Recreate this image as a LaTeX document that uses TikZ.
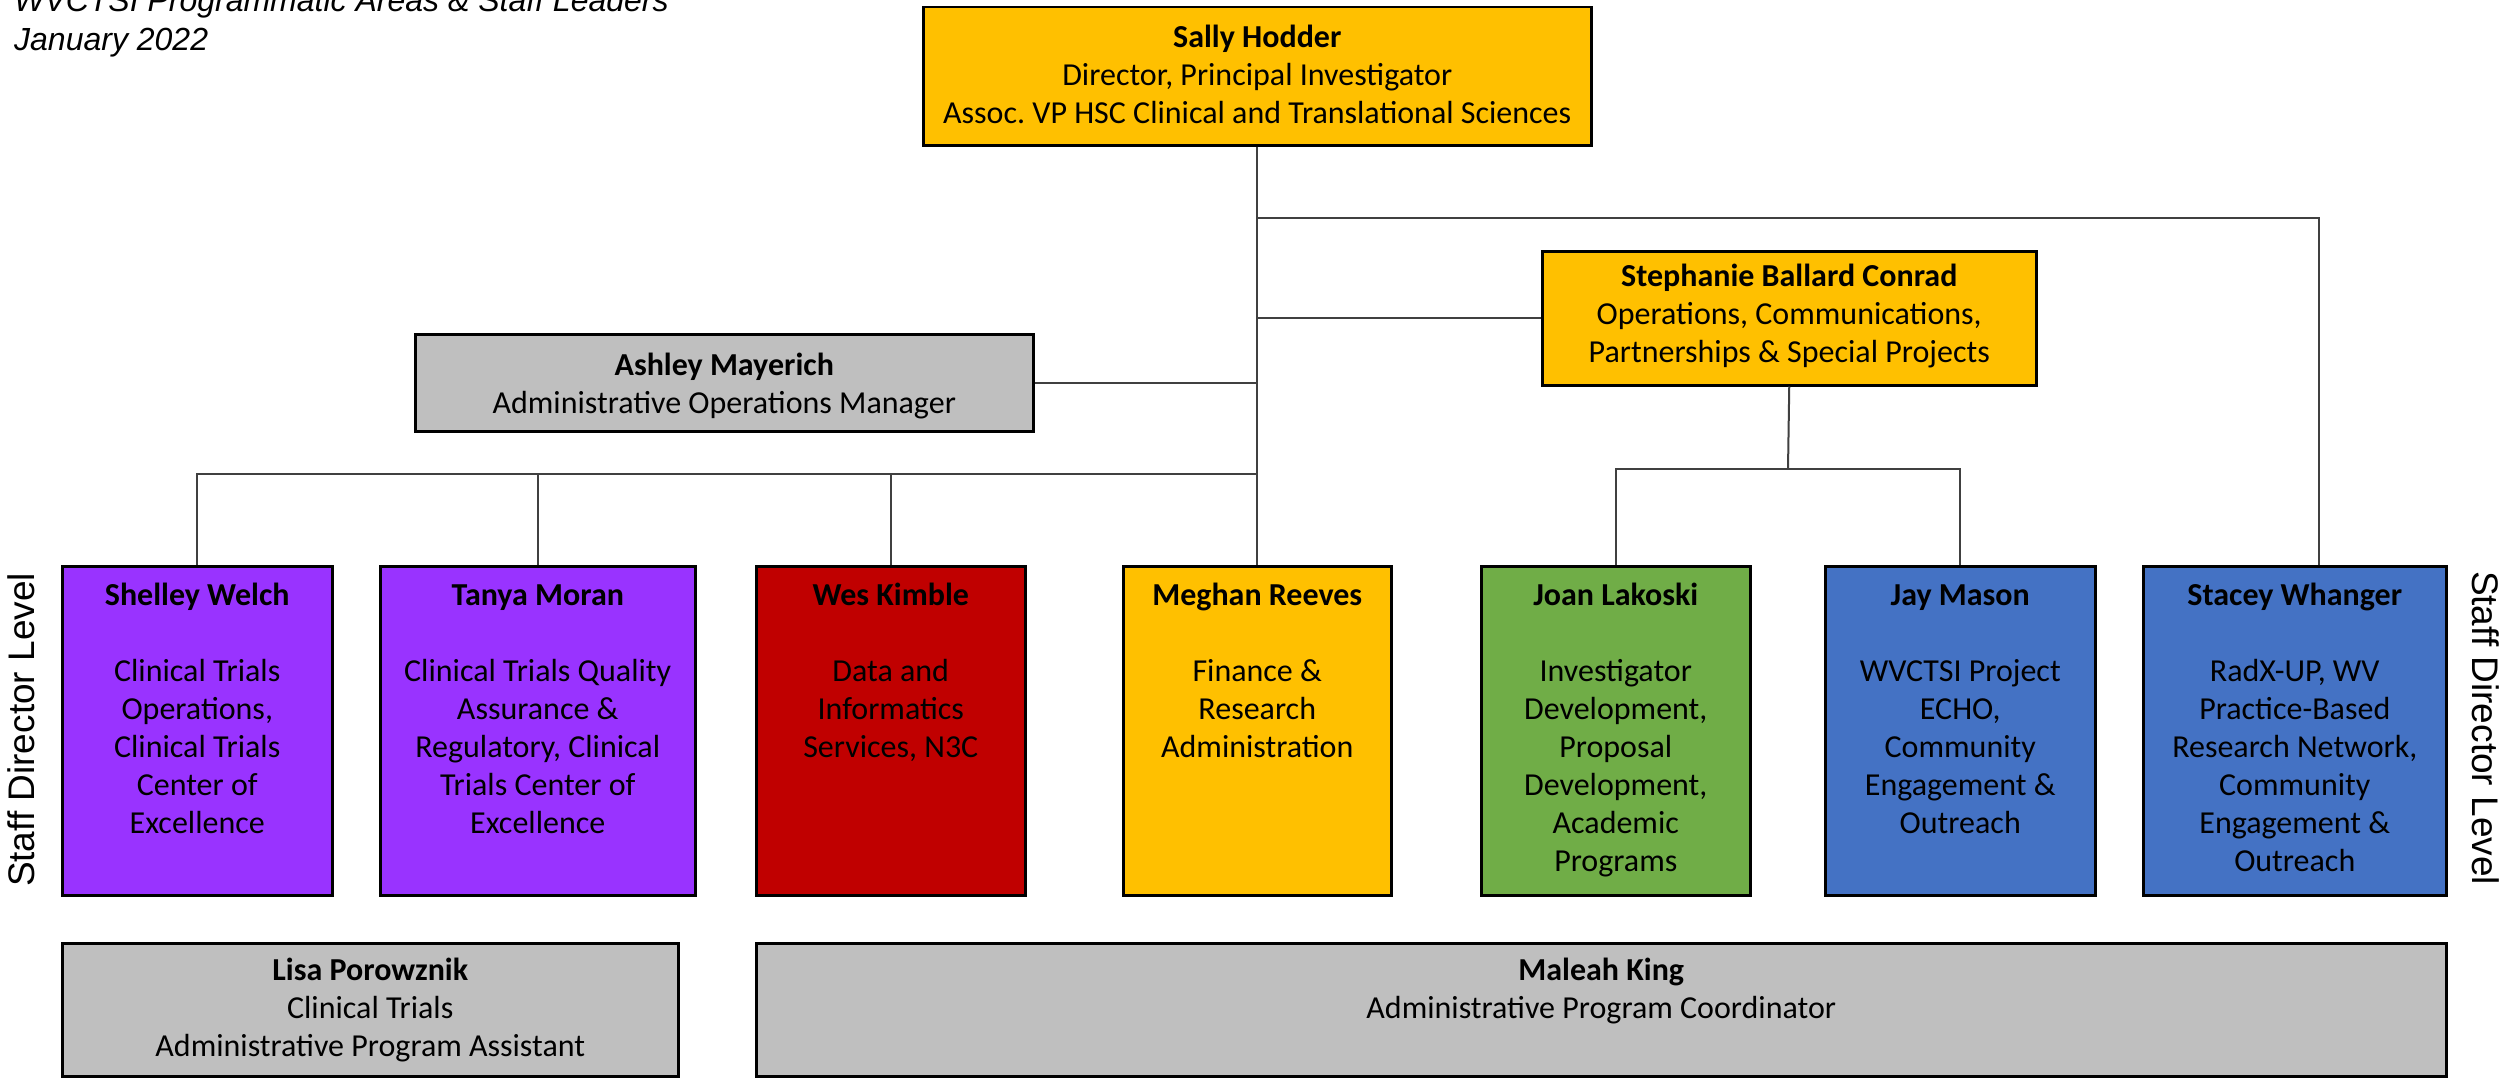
\documentclass[tikz,border=0pt]{standalone}
\usepackage{fontspec}
\setmainfont{Carlito}
\newfontfamily\arialfont{Liberation Sans}
\definecolor{cgold}{HTML}{FFC000}
\definecolor{cgray}{HTML}{BFBFBF}
\definecolor{cpurple}{HTML}{9933FF}
\definecolor{cred}{HTML}{C00000}
\definecolor{cgreen}{HTML}{70AD47}
\definecolor{cblue}{HTML}{4472C4}
\frenchspacing
\begin{document}
\begin{tikzpicture}[x=1pt,y=-1pt,
  box/.style={draw=black, line width=2.5pt, inner sep=0pt, anchor=north west},
  txt/.style={anchor=north, align=center, inner sep=0pt, font=\fontsize{32}{38}\selectfont},
  conn/.style={draw=black!75, line width=2pt},
  side/.style={font=\arialfont\fontsize{37}{44}\selectfont, inner sep=0pt}]
\useasboundingbox (0,0) rectangle (2509,1081);
\fill[white] (0,0) rectangle (2509,1081);

% title
\node[anchor=base west, inner sep=0pt, font=\arialfont\itshape\fontsize{32}{39}\selectfont] (title1) at (14,12) {WVCTSI Programmatic Areas \& Staff Leaders};
\node[anchor=base west, inner sep=0pt, font=\arialfont\itshape\fontsize{32}{39}\selectfont] (title2) at (14,51) {January 2022};

% boxes
\node[box, fill=cgold, minimum width=668pt, minimum height=138pt] (sally) at (922,6) {};
\node[box, fill=cgold, minimum width=494pt, minimum height=134pt] (steph) at (1541,250) {};
\node[box, fill=cgray, minimum width=618pt, minimum height=97pt] (ashley) at (414,333) {};
\node[box, fill=cpurple, minimum width=270pt, minimum height=329pt] (shelley) at (61,565) {};
\node[box, fill=cpurple, minimum width=315pt, minimum height=329pt] (tanya) at (379,565) {};
\node[box, fill=cred, minimum width=269pt, minimum height=329pt] (wes) at (755,565) {};
\node[box, fill=cgold, minimum width=268pt, minimum height=329pt] (meghan) at (1122,565) {};
\node[box, fill=cgreen, minimum width=269pt, minimum height=329pt] (joan) at (1480,565) {};
\node[box, fill=cblue, minimum width=270pt, minimum height=329pt] (jay) at (1824,565) {};
\node[box, fill=cblue, minimum width=303pt, minimum height=329pt] (stacey) at (2142,565) {};
\node[box, fill=cgray, minimum width=616pt, minimum height=133pt] (lisa) at (61,942) {};
\node[box, fill=cgray, minimum width=1690pt, minimum height=133pt] (maleah) at (755,942) {};

% texts
\node[txt] (tsally) at ([yshift=-15pt]sally.north) {\strut\textbf{Sally Hodder}\\Director, Principal Investigator\\Assoc. VP HSC Clinical and Translational Sciences};
\node[txt] (tsteph) at ([yshift=-10pt]steph.north) {\strut\textbf{Stephanie Ballard Conrad}\\Operations, Communications,\\Partnerships \& Special Projects};
\node[txt] (tashley) at ([yshift=-16pt]ashley.north) {\strut\textbf{Ashley Mayerich}\\Administrative Operations Manager};
\node[txt] (tshelley) at ([yshift=-14pt]shelley.north) {\strut\textbf{Shelley Welch}\\[38pt]Clinical Trials\\Operations,\\Clinical Trials\\Center of\\Excellence};
\node[txt] (ttanya) at ([yshift=-14pt]tanya.north) {\strut\textbf{Tanya Moran}\\[38pt]Clinical Trials Quality\\Assurance \&\\Regulatory, Clinical\\Trials Center of\\Excellence};
\node[txt] (twes) at ([yshift=-14pt]wes.north) {\strut\textbf{Wes Kimble}\\[38pt]Data and\\Informatics\\Services, N3C};
\node[txt] (tmeghan) at ([yshift=-14pt]meghan.north) {\strut\textbf{Meghan Reeves}\\[38pt]Finance \&\\Research\\Administration};
\node[txt] (tjoan) at ([yshift=-14pt]joan.north) {\strut\textbf{Joan Lakoski}\\[38pt]Investigator\\Development,\\Proposal\\Development,\\Academic\\Programs};
\node[txt] (tjay) at ([yshift=-14pt]jay.north) {\strut\textbf{Jay Mason}\\[38pt]WVCTSI Project\\ECHO,\\Community\\Engagement \&\\Outreach};
\node[txt] (tstacey) at ([yshift=-14pt]stacey.north) {\strut\textbf{Stacey Whanger}\\[38pt]RadX-UP, WV\\Practice-Based\\Research Network,\\Community\\Engagement \&\\Outreach};
\node[txt] (tlisa) at ([yshift=-12pt]lisa.north) {\strut\textbf{Lisa Porowznik}\\Clinical Trials\\Administrative Program Assistant};
\node[txt] (tmaleah) at ([yshift=-12pt]maleah.north) {\strut\textbf{Maleah King}\\Administrative Program Coordinator};

% side labels
\node[side, rotate=90] (sideL) at (21,730) {Staff Director Level};
\node[side, rotate=-90] (sideR) at (2486,728) {Staff Director Level};

% connectors
\coordinate (j1) at (1256,218);
\coordinate (j2) at (1256,474);
\coordinate (j3) at (1788,469);
\draw[conn] (sally.south) -- (meghan.north);
\draw[conn] (j1) -| ([xshift=24pt]stacey.north);
\draw[conn] (steph.west) -- (steph.west -| j1);
\draw[conn] (ashley.east) -- (ashley.east -| j1);
\draw[conn] (shelley.north) |- (j2);
\draw[conn] (tanya.north) -- (tanya.north |- j2);
\draw[conn] (wes.north) -- (wes.north |- j2);
\draw[conn] (steph.south) -- (j3);
\draw[conn] (joan.north) |- (j3) -| (jay.north);
\end{tikzpicture}
\end{document}
